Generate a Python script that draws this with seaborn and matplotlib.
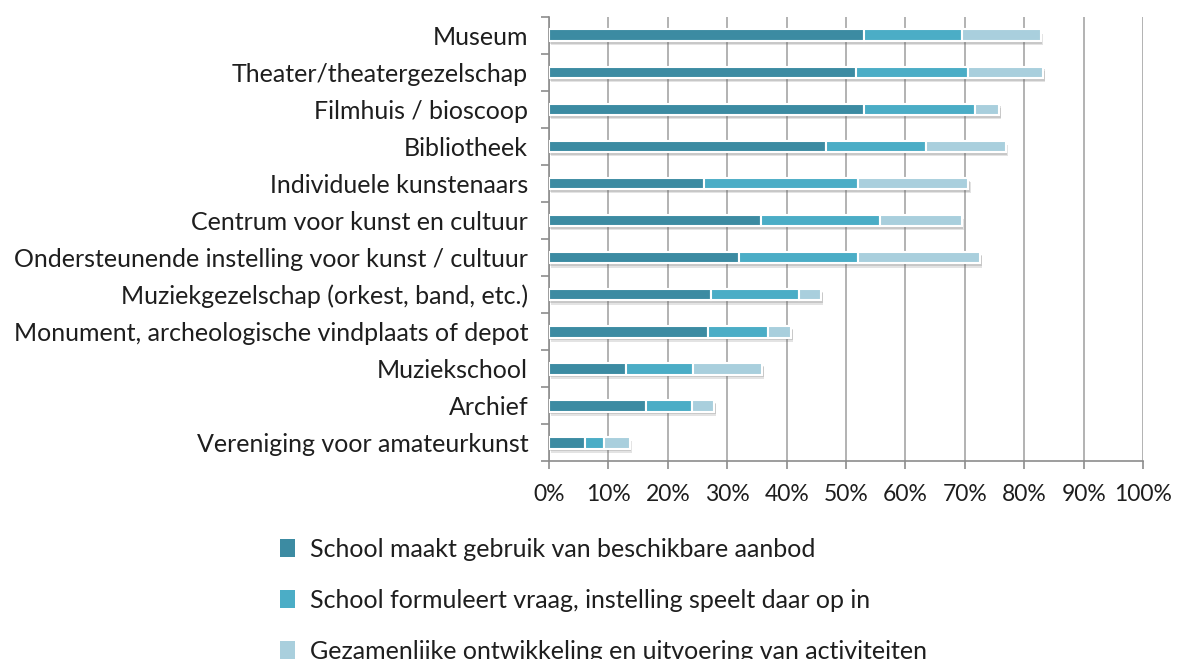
import numpy as np
import pandas as pd
import matplotlib
matplotlib.use("Agg")
import matplotlib.pyplot as plt
import matplotlib.patheffects as pe
from matplotlib.patches import Patch
from matplotlib.ticker import MultipleLocator, PercentFormatter
import seaborn as sns

# ---- data (percentages) ----
categories = [
    "Museum",
    "Theater/theatergezelschap",
    "Filmhuis / bioscoop",
    "Bibliotheek",
    "Individuele kunstenaars",
    "Centrum voor kunst en cultuur",
    "Ondersteunende instelling voor kunst / cultuur",
    "Muziekgezelschap (orkest, band, etc.)",
    "Monument, archeologische vindplaats of depot",
    "Muziekschool",
    "Archief",
    "Vereniging voor amateurkunst",
]
aanbod = [53.1, 51.6, 53.1, 46.7, 26.1, 35.6, 32.0, 27.2, 26.8, 13.0, 16.3, 6.1]
vraag = [16.5, 19.0, 18.6, 16.8, 25.9, 20.1, 20.0, 14.9, 10.0, 11.2, 7.7, 3.2]
samen = [13.2, 12.6, 4.1, 13.4, 18.6, 13.8, 20.6, 3.7, 4.0, 11.7, 3.8, 4.3]

series_labels = [
    "School maakt gebruik van beschikbare aanbod",
    "School formuleert vraag, instelling speelt daar op in",
    "Gezamenlijke ontwikkeling en uitvoering van activiteiten",
]
colors = ["#3C8BA2", "#4BADC6", "#A9CFDD"]

df = pd.DataFrame(
    {series_labels[0]: aanbod, series_labels[1]: vraag, series_labels[2]: samen},
    index=categories,
)

sns.set_style("white")
plt.rcParams["font.family"] = ["Lato", "DejaVu Sans"]
text_color = "#1e1e1e"
axis_color = "#8c8c8c"
fs = 18

fig = plt.figure(figsize=(11.8, 6.59), dpi=100)
ax = fig.add_axes([0.4653, 0.2997, 0.5034, 0.675])

# reversed so Museum ends up on top
df[::-1].plot(kind="barh", stacked=True, ax=ax, color=colors, width=0.31,
              edgecolor="white", linewidth=1.5, legend=False, zorder=3)

# soft drop shadow under each segment
shadow = [pe.SimplePatchShadow(offset=(1.5, -3), shadow_rgbFace="#666666", alpha=0.18),
          pe.SimplePatchShadow(offset=(1, -2), shadow_rgbFace="#666666", alpha=0.22),
          pe.Normal()]
for patch in ax.patches:
    patch.set_path_effects(shadow)

ax.set_xlim(0, 100)
ax.set_ylim(-0.5, len(categories) - 0.5)
ax.xaxis.set_major_locator(MultipleLocator(10))
ax.xaxis.set_major_formatter(PercentFormatter(decimals=0))
ax.set_ylabel("")
ax.set_xlabel("")

ax.grid(axis="x", color="#a6a6a6", linewidth=1.2, zorder=0)
ax.grid(axis="y", visible=False)
ax.set_axisbelow(True)

for side in ["top", "right"]:
    ax.spines[side].set_visible(False)
for side in ["left", "bottom"]:
    ax.spines[side].set_color(axis_color)
    ax.spines[side].set_linewidth(1.2)

ax.tick_params(axis="x", which="major", direction="out", length=6, width=1.2,
               color=axis_color, labelsize=16.5, labelcolor=text_color, pad=10, bottom=True)
ax.tick_params(axis="y", which="major", length=0, labelsize=fs, labelcolor=text_color, pad=15)
ax.set_yticks(np.arange(len(categories) + 1) - 0.5, minor=True)
ax.tick_params(axis="y", which="minor", direction="out", length=6, width=1.2,
               color=axis_color, left=True)

# legend below the plot; the last entry runs off the bottom edge as in the source
handles = [Patch(facecolor=c, edgecolor="none") for c in colors]
fig.legend(handles, series_labels, loc="upper left", bbox_to_anchor=(0.237, 0.184),
           frameon=False, fontsize=fs, labelcolor=text_color, ncol=1,
           handlelength=0.6, handleheight=0.75, handletextpad=0.6,
           labelspacing=1.12, borderpad=0, borderaxespad=0)

fig.savefig("out.png", dpi=100)
